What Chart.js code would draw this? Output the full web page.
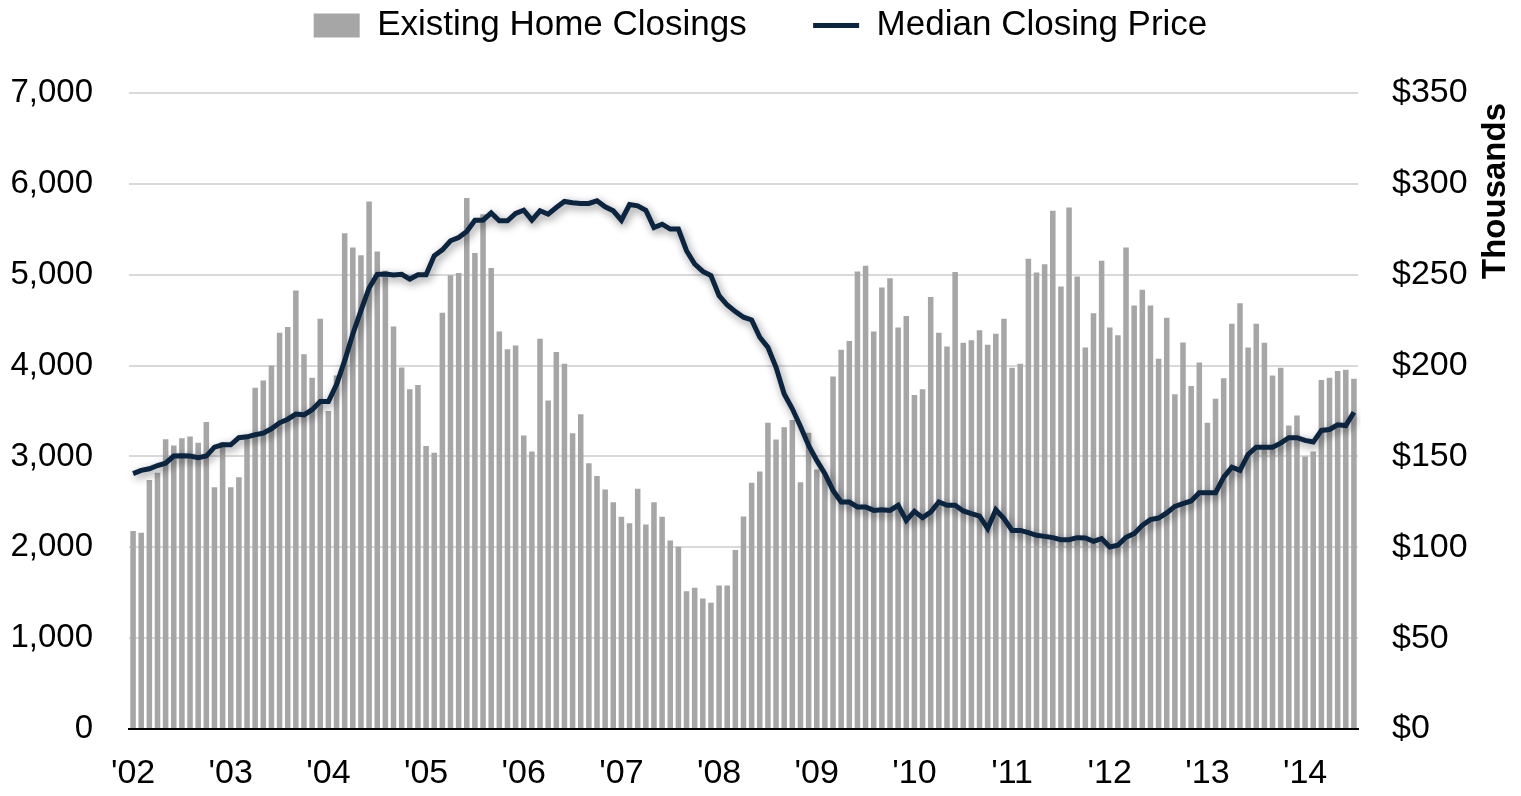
<!DOCTYPE html>
<html>
<head>
<meta charset="utf-8">
<script src="https://cdn.jsdelivr.net/npm/chart.js@4.4.0/dist/chart.umd.min.js"></script>
<style>
  html, body { margin: 0; padding: 0; background: #fff; }
  #wrap { width: 1521px; height: 796px; }
</style>
</head>
<body>
<div id="wrap"><canvas id="homeChart"></canvas></div>
<script>
// monthly, Jan 2002 - Jul 2014
var years = [2002, 2003, 2004, 2005, 2006, 2007, 2008, 2009, 2010, 2011, 2012, 2013, 2014];
var yearLabels = ["'02", "'03", "'04", "'05", "'06", "'07", "'08", "'09", "'10", "'11", "'12", "'13", "'14"];
var monthNames = ['Jan','Feb','Mar','Apr','May','Jun','Jul','Aug','Sep','Oct','Nov','Dec'];

var closings = [
  2180, 2160, 2740, 2820, 3190, 3120, 3200, 3220, 3150, 3380, 2660, 3160,
  2660, 2770, 3200, 3755, 3835, 4000, 4360, 4425, 4825, 4125, 3865, 4515,
  3500, 3890, 5455, 5300, 5215, 5805, 5255, 5045, 4430, 3980, 3740, 3785,
  3115, 3040, 4580, 4995, 5020, 5845, 5240, 5665, 5075, 4375, 4180, 4220,
  3230, 3055, 4295, 3615, 4150, 4020, 3255, 3465, 2925, 2785, 2635, 2495,
  2335, 2265, 2645, 2250, 2495, 2335, 2075, 2005, 1515, 1555, 1435, 1390,
  1580, 1580, 1970, 2340, 2710, 2835, 3370, 3185, 3320, 3400, 2715, 3260,
  2855, 2800, 3880, 4175, 4270, 5035, 5100, 4375, 4860, 4960, 4420, 4545,
  3675, 3740, 4755, 4360, 4210, 5030, 4250, 4280, 4390, 4230, 4350, 4515,
  3975, 4020, 5175, 5025, 5115, 5705, 4870, 5740, 4980, 4200, 4575, 5155,
  4420, 4335, 5300, 4660, 4835, 4660, 4075, 4525, 3685, 4255, 3775, 4035,
  3370, 3635, 3860, 4460, 4685, 4200, 4460, 4250, 3890, 3975, 3340, 3450,
  3000, 3055, 3840, 3865, 3940, 3955, 3855
];

// median closing price, $ thousands
var medianPrice = [
  140.5, 142.3, 143.2, 145.0, 146.3, 150.2, 150.4, 150.2, 149.3, 150.2, 155.1, 156.4,
  156.4, 160.3, 160.8, 161.9, 162.8, 165.2, 168.5, 170.5, 173.3, 172.9, 175.7, 180.2,
  180.2, 189.6, 202.7, 217.4, 230.2, 242.7, 250.2, 250.4, 249.8, 250.2, 247.6, 250.0,
  250.0, 260.4, 263.7, 268.7, 270.5, 273.8, 280.0, 280.0, 284.0, 279.7, 279.7, 283.7,
  285.5, 280.0, 285.2, 283.3, 287.0, 290.3, 289.6, 289.2, 289.2, 290.7, 287.4, 285.2,
  280.0, 288.6, 287.9, 285.5, 276.0, 277.8, 275.1, 275.1, 263.2, 255.9, 251.8, 249.5,
  238.5, 233.3, 229.7, 226.6, 225.1, 215.6, 210.0, 199.0, 184.4, 176.2, 166.5, 156.0,
  147.8, 140.5, 131.3, 124.9, 124.9, 122.2, 122.2, 120.3, 120.7, 120.3, 123.1, 114.8,
  119.8, 116.3, 119.4, 124.9, 123.1, 123.1, 120.0, 118.5, 117.2, 110.3, 120.7, 115.8,
  109.3, 109.3, 108.1, 106.6, 106.0, 105.3, 104.2, 104.2, 105.3, 105.1, 103.3, 104.8,
  100.2, 101.1, 105.5, 107.5, 112.1, 115.2, 116.1, 118.9, 122.5, 124.0, 125.5, 130.0,
  130.0, 130.0, 138.6, 144.1, 142.3, 151.1, 155.1, 155.1, 155.1, 157.3, 160.3, 160.3,
  158.8, 157.9, 164.3, 164.8, 167.4, 167.0, 174.3
];

var categories = [];
years.forEach(function (yr) {
  monthNames.forEach(function (m) {
    if (categories.length < closings.length) categories.push(m + ' ' + yr);
  });
});

var barColor = '#a6a6a6';
var lineColor = '#0b2540';
var font = "'Liberation Sans', Arial, sans-serif";

// soft shadow under the price line, like the Excel original
var lineShadow = {
  id: 'lineShadow',
  beforeDatasetDraw: function (chart, args) {
    if (args.index !== 1) return;
    var c = chart.ctx;
    c.save();
    c.shadowColor = 'rgba(0,0,0,0.45)';
    c.shadowBlur = 8;
    c.shadowOffsetX = 2;
    c.shadowOffsetY = 3;
  },
  afterDatasetDraw: function (chart, args) {
    if (args.index !== 1) return;
    chart.ctx.restore();
  }
};

// right axis title reads bottom-to-top and sits at the top
var rightTitle = {
  id: 'rightTitle',
  afterDraw: function (chart) {
    var c = chart.ctx;
    var s = chart.scales.y1;
    c.save();
    c.translate(s.right - 25, chart.chartArea.top + 10);
    c.rotate(-Math.PI / 2);
    c.font = 'bold 33px ' + font;
    c.fillStyle = '#000';
    c.textAlign = 'right';
    c.textBaseline = 'middle';
    c.fillText('Thousands', 0, 0);
    c.restore();
  }
};

var ctx = document.getElementById('homeChart').getContext('2d');
var homeChart = new Chart(ctx, {
  type: 'bar',
  data: {
    labels: categories,
    datasets: [{
      type: 'bar',
      label: 'Existing Home Closings',
      data: closings,
      backgroundColor: barColor,
      borderWidth: 0,
      barPercentage: 0.68,
      categoryPercentage: 1,
      yAxisID: 'y',
      order: 1
    }, {
      type: 'line',
      label: 'Median Closing Price',
      data: medianPrice,
      borderColor: lineColor,
      backgroundColor: lineColor,
      borderWidth: 5,
      pointRadius: 0,
      tension: 0,
      yAxisID: 'y1',
      order: 0
    }]
  },
  options: {
    responsive: true,
    maintainAspectRatio: false,
    animation: false,
    layout: { padding: 0 },
    plugins: {
      tooltip: { enabled: false },
      legend: {
        position: 'top',
        align: 'center',
        labels: {
          font: { family: font, size: 35 },
          color: '#000',
          usePointStyle: true,
          pointStyleWidth: 46,
          boxHeight: 24,
          padding: 8,
          generateLabels: function (chart) {
            return [{
              text: 'Existing Home Closings      ',
              fillStyle: barColor,
              strokeStyle: barColor,
              lineWidth: 0,
              pointStyle: 'rect',
              hidden: false,
              datasetIndex: 0
            }, {
              text: 'Median Closing Price',
              fillStyle: lineColor,
              strokeStyle: lineColor,
              lineWidth: 5,
              pointStyle: 'line',
              hidden: false,
              datasetIndex: 1
            }];
          }
        }
      }
    },
    scales: {
      x: {
        grid: { display: false, drawTicks: false },
        border: { color: '#000', width: 2 },
        ticks: {
          autoSkip: false,
          maxRotation: 0,
          minRotation: 0,
          padding: 24,
          color: '#000',
          font: { family: font, size: 34 },
          callback: function (v, i) {
            return i % 12 === 0 ? yearLabels[i / 12] : '';
          }
        },
        afterFit: function (scale) { scale.height = 67; }
      },
      // spacer between legend and plot
      xTop: {
        position: 'top',
        type: 'category',
        grid: { display: false, drawTicks: false },
        border: { display: false },
        ticks: { display: false },
        afterFit: function (scale) { scale.height = 40; }
      },
      y: {
        position: 'left',
        min: 0,
        max: 7000,
        grid: { color: '#d9d9d9', lineWidth: 2, drawTicks: false },
        border: { display: false },
        ticks: {
          stepSize: 1000,
          padding: 36,
          color: '#000',
          font: { family: font, size: 33 },
          callback: function (v) { return v.toLocaleString('en-US'); }
        },
        afterFit: function (scale) { scale.width = 129; }
      },
      y1: {
        position: 'right',
        min: 0,
        max: 350,
        grid: { drawOnChartArea: false, drawTicks: false },
        border: { display: false },
        ticks: {
          stepSize: 50,
          padding: 34,
          color: '#000',
          font: { family: font, size: 34 },
          callback: function (v) { return '$' + v; }
        },
        afterFit: function (scale) { scale.width = 163; }
      }
    }
  },
  plugins: [lineShadow, rightTitle]
});
</script>
</body>
</html>
